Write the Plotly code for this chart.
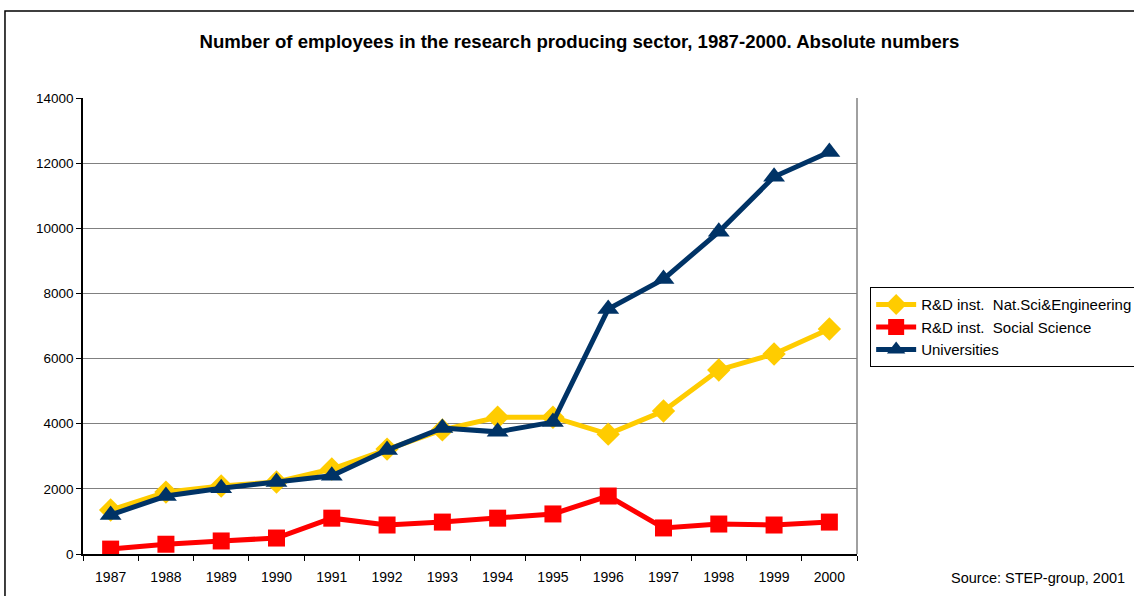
import plotly.graph_objects as go

years = ["1987", "1988", "1989", "1990", "1991", "1992", "1993",
         "1994", "1995", "1996", "1997", "1998", "1999", "2000"]
nat_sci_eng = [1350, 1900, 2090, 2210, 2610, 3220, 3810,
               4200, 4200, 3680, 4390, 5650, 6140, 6910]
social_sci = [150, 300, 400, 490, 1100, 890, 980,
              1100, 1230, 1780, 800, 920, 890, 980]
universities = [1200, 1780, 2020, 2210, 2400, 3190, 3870,
                3750, 4050, 7520, 8440, 9890, 11580, 12340]

series = [
    ("R&D inst.  Nat.Sci&Engineering", nat_sci_eng, "#FFCC00", "diamond", 18),
    ("R&D inst.  Social Science", social_sci, "#FF0000", "square", 17),
    ("Universities", universities, "#003366", "triangle-up", 19),
]

fig = go.Figure()
for name, vals, color, symbol, size in series:
    fig.add_trace(go.Scatter(
        x=years, y=vals, name=name, mode="lines+markers",
        line=dict(color=color, width=5),
        marker=dict(color=color, symbol=symbol, size=size, line=dict(width=0)),
    ))

font = "Liberation Sans, Arial, sans-serif"
fig.update_layout(
    width=1134, height=596,
    margin=dict(l=83, r=277, t=98, b=42, autoexpand=False),
    paper_bgcolor="white", plot_bgcolor="white",
    font=dict(family=font, size=13, color="black"),
    title=dict(
        text="<b>Number of employees in the research producing sector, 1987-2000. Absolute numbers</b>",
        x=0.511, xanchor="center", y=0.931, yanchor="middle",
        font=dict(family=font, size=18.6, color="black"),
    ),
    showlegend=True,
    legend=dict(
        x=1.017, xanchor="left", y=0.585, yanchor="top",
        bgcolor="white", bordercolor="black", borderwidth=1,
        font=dict(family=font, size=15, color="black"),
        tracegroupgap=0, itemwidth=40,
    ),
    shapes=[
        dict(type="rect", xref="paper", yref="paper",
             x0=-0.1008, x1=1.5, y0=-0.2, y1=1.1908,
             line=dict(color="black", width=1.5), fillcolor="rgba(0,0,0,0)",
             layer="below"),
        dict(type="line", xref="paper", yref="paper",
             x0=1, x1=1, y0=0, y1=1, line=dict(color="#808080", width=1.5)),
    ],
    annotations=[
        dict(text="Source: STEP-group, 2001", xref="paper", yref="paper",
             x=1.349, y=-0.052, xanchor="right", yanchor="middle",
             showarrow=False, font=dict(family=font, size=14.5, color="black")),
    ],
)

fig.update_xaxes(
    type="category", tickson="boundaries", ticks="outside", ticklen=5,
    tickcolor="black", showline=True, linecolor="black", linewidth=1.5,
    showgrid=False, tickfont=dict(size=14), zeroline=False,
    range=[-0.5, 13.5], autorange=False, ticklabelstandoff=9,
)
fig.update_yaxes(
    range=[0, 14000], dtick=2000, ticks="outside", ticklen=5,
    tickcolor="black", showline=True, linecolor="black", linewidth=1.5,
    showgrid=True, gridcolor="#808080", gridwidth=1, zeroline=False,
    tickfont=dict(size=13.5), tickformat="d",
)

fig.write_html("out.html")
